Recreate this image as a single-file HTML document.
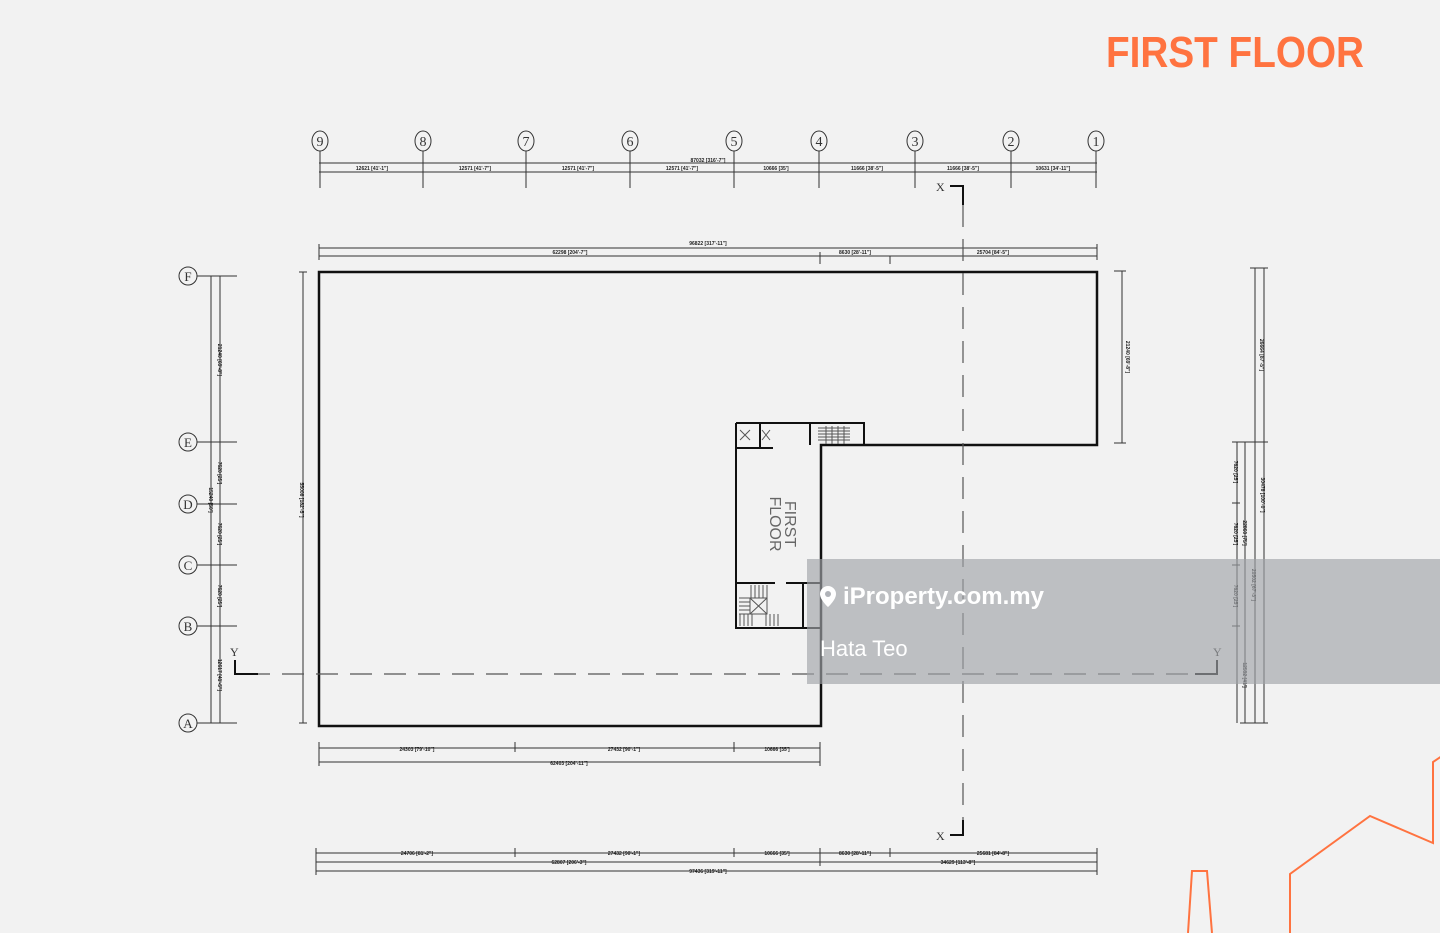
<!DOCTYPE html>
<html><head><meta charset="utf-8"><style>
html,body{margin:0;padding:0;background:#f2f2f2;}
svg{display:block;font-family:"Liberation Sans",sans-serif;}
</style></head><body>
<svg width="1440" height="933" viewBox="0 0 1440 933" xmlns="http://www.w3.org/2000/svg">
<rect width="1440" height="933" fill="#f2f2f2"/>
<text x="1106" y="67" font-size="44" font-weight="bold" fill="#ff7340" textLength="258" lengthAdjust="spacingAndGlyphs">FIRST FLOOR</text>

<g stroke="#333" stroke-width="1" fill="none">
<ellipse cx="320" cy="141" rx="8" ry="10"/><ellipse cx="423" cy="141" rx="8" ry="10"/><ellipse cx="526" cy="141" rx="8" ry="10"/><ellipse cx="630" cy="141" rx="8" ry="10"/><ellipse cx="734" cy="141" rx="8" ry="10"/><ellipse cx="819" cy="141" rx="8" ry="10"/><ellipse cx="915" cy="141" rx="8" ry="10"/><ellipse cx="1011" cy="141" rx="8" ry="10"/><ellipse cx="1096" cy="141" rx="8" ry="10"/>
<path d="M320 151V188M423 151V188M526 151V188M630 151V188M734 151V188M819 151V188M915 151V188M1011 151V188M1096 151V188"/>
<path d="M319 163H1097M319 172H1097"/>
<path d="M319 248H1097M319 256H1097M319 244V260M1097 244V260M820 252V264M890 256V264"/>
<path d="M197 276H237M197 442H237M197 504H237M197 565H237M197 626H237M197 723H237"/>
<path d="M211 276V723M220 276V723M303 272V723M299 272H307M299 723H307"/>
<path d="M1122 271V443M1114 271H1126M1114 443H1126"/>
<path d="M1237 442V723M1245 442V723M1255 268V723M1264 268V723M1232 442H1268M1232 503H1240M1232 565H1240M1232 626H1240M1250 268H1268M1250 442H1268M1240 723H1268"/>
<path d="M319 748H820M319 762H820M319 742V766M515 742V752M734 742V752M820 742V766"/>
<path d="M316 853H1097M316 862H1097M316 871H1097M316 848V875M515 848V857M734 848V857M820 848V866M890 848V857M1097 848V875"/>
</g>

<g fill="#333" font-size="14" font-family="Liberation Serif,serif" text-anchor="middle">
<text x="320" y="146">9</text><text x="423" y="146">8</text><text x="526" y="146">7</text><text x="630" y="146">6</text><text x="734" y="146">5</text><text x="819" y="146">4</text><text x="915" y="146">3</text><text x="1011" y="146">2</text><text x="1096" y="146">1</text>
</g>
<g stroke="#333" fill="none">
<circle cx="188" cy="276" r="9"/><circle cx="188" cy="442" r="9"/><circle cx="188" cy="504" r="9"/><circle cx="188" cy="565" r="9"/><circle cx="188" cy="626" r="9"/><circle cx="188" cy="723" r="9"/>
</g>
<g fill="#333" font-size="13" font-family="Liberation Serif,serif" text-anchor="middle">
<text x="188" y="281">F</text><text x="188" y="447">E</text><text x="188" y="509">D</text><text x="188" y="570">C</text><text x="188" y="631">B</text><text x="188" y="728">A</text>
</g>

<g fill="#222" font-size="5" font-weight="bold" text-anchor="middle">
<text x="372" y="170">12621 [41'-1"]</text><text x="475" y="170">12571 [41'-7"]</text><text x="578" y="170">12571 [41'-7"]</text><text x="682" y="170">12571 [41'-7"]</text><text x="776" y="170">10666 [35']</text><text x="867" y="170">11666 [38'-5"]</text><text x="963" y="170">11666 [38'-5"]</text><text x="1053" y="170">10631 [34'-11"]</text>
<text x="708" y="162">87032 [316'-7"]</text>
<text x="708" y="245">96822 [317'-11"]</text><text x="570" y="254">62298 [204'-7"]</text><text x="855" y="254">8630 [28'-11"]</text><text x="993" y="254">25704 [84'-5"]</text>
<text x="417" y="751">24303 [79'-10"]</text><text x="624" y="751">27432 [90'-1"]</text><text x="777" y="751">10666 [35']</text><text x="569" y="765">62403 [204'-11"]</text>
<text x="417" y="855">24706 [81'-2"]</text><text x="624" y="855">27432 [90'-1"]</text><text x="777" y="855">10666 [35']</text><text x="855" y="855">8630 [28'-11"]</text><text x="993" y="855">25681 [84'-8"]</text>
<text x="569" y="864">62807 [206'-3"]</text><text x="958" y="864">34629 [113'-8"]</text><text x="708" y="873">97436 [319'-11"]</text>
<text transform="translate(218,360) rotate(90)">21240 [69'-8"]</text>
<text transform="translate(218,473) rotate(90)">7620 [25']</text>
<text transform="translate(209,500) rotate(90)">15240 [50']</text>
<text transform="translate(218,534) rotate(90)">7620 [25']</text>
<text transform="translate(218,596) rotate(90)">7620 [25']</text>
<text transform="translate(218,675) rotate(90)">12617 [41'-5"]</text>
<text transform="translate(300,500) rotate(90)">55008 [182'-5"]</text>
<text transform="translate(1126,357) rotate(90)">21240 [69'-8"]</text>
<text transform="translate(1260,355) rotate(90)">26664 [87'-5"]</text>
<text transform="translate(1234,472) rotate(90)">7620 [25']</text>
<text transform="translate(1234,534) rotate(90)">7620 [25']</text>
<text transform="translate(1234,596) rotate(90)">7620 [25']</text>
<text transform="translate(1243,533) rotate(90)">22860 [75']</text>
<text transform="translate(1252,585) rotate(90)">20502 [67'-3"]</text>
<text transform="translate(1261,495) rotate(90)">30478 [100'-0"]</text>
<text transform="translate(1243,675) rotate(90)">12592 [41']</text>
</g>

<path d="M319 272H1097V445H821V726H319Z" fill="none" stroke="#111" stroke-width="2.5"/>
<g fill="none" stroke="#111" stroke-width="2">
<path d="M736 423H864V445M736 423V628H821M821 445V628M736 583H775M786 583H821M803 583V628M810 423V445M736 448H773M760 423V448"/>
</g>
<g stroke="#555" stroke-width="1">
<path d="M818 428H850M818 431H850M818 434H850M818 437H850M818 440H850M826 426V444M832 426V444M838 426V444M844 426V444"/>
<path d="M740 430l10 10M750 430l-10 10M762 430l8 10M770 430l-8 10"/>
<path d="M751 585V598M755 585V598M759 585V598M763 585V598M767 585V598M739 598H750M739 602H750M739 606H750M739 610H750M739 614H750M740 614V626M744 614V626M748 614V626M752 614V626M766 614V626M770 614V626M774 614V626M778 614V626"/>
<rect x="750" y="598" width="17" height="16" fill="none"/><path d="M750 598l17 16M767 598l-17 16"/>
</g>
<text transform="translate(785,524) rotate(90)" text-anchor="middle" font-size="16" fill="#666">FIRST</text>
<text transform="translate(770,524) rotate(90)" text-anchor="middle" font-size="16" fill="#666">FLOOR</text>

<g stroke="#555" stroke-width="1.2" fill="none">
<path d="M963 205V835" stroke-dasharray="22,12"/>
<path d="M248 674H1200" stroke-dasharray="22,12"/>
</g>
<g stroke="#111" stroke-width="2" fill="none"><path d="M950 186H963V205M950 835H963V820M235 660V674H258M1217 660V674H1195"/></g>
<g fill="#333" font-size="12" font-family="Liberation Serif,serif"><text x="936" y="191">X</text><text x="936" y="840">X</text><text x="230" y="656">Y</text><text x="1213" y="656">Y</text></g>

<rect x="807" y="559" width="633" height="125" fill="rgba(160,163,168,0.65)"/>
<path d="M828 586a8 8 0 0 1 8 8c0 6-8 13-8 13s-8-7-8-13a8 8 0 0 1 8-8z" fill="#fff"/>
<circle cx="828" cy="594" r="3" fill="#b0b3b8"/>
<text x="843" y="604" font-size="24" font-weight="bold" fill="#fff">iProperty.com.my</text>
<text x="820" y="656" font-size="22" fill="#fff">Hata Teo</text>

<g stroke="#ff7340" stroke-width="2" fill="none">
<path d="M1188 933L1192 871H1207L1212 933"/>
<path d="M1290 933V874L1370 816L1433 843V762L1442 756"/>
</g>
</svg>
</body></html>
